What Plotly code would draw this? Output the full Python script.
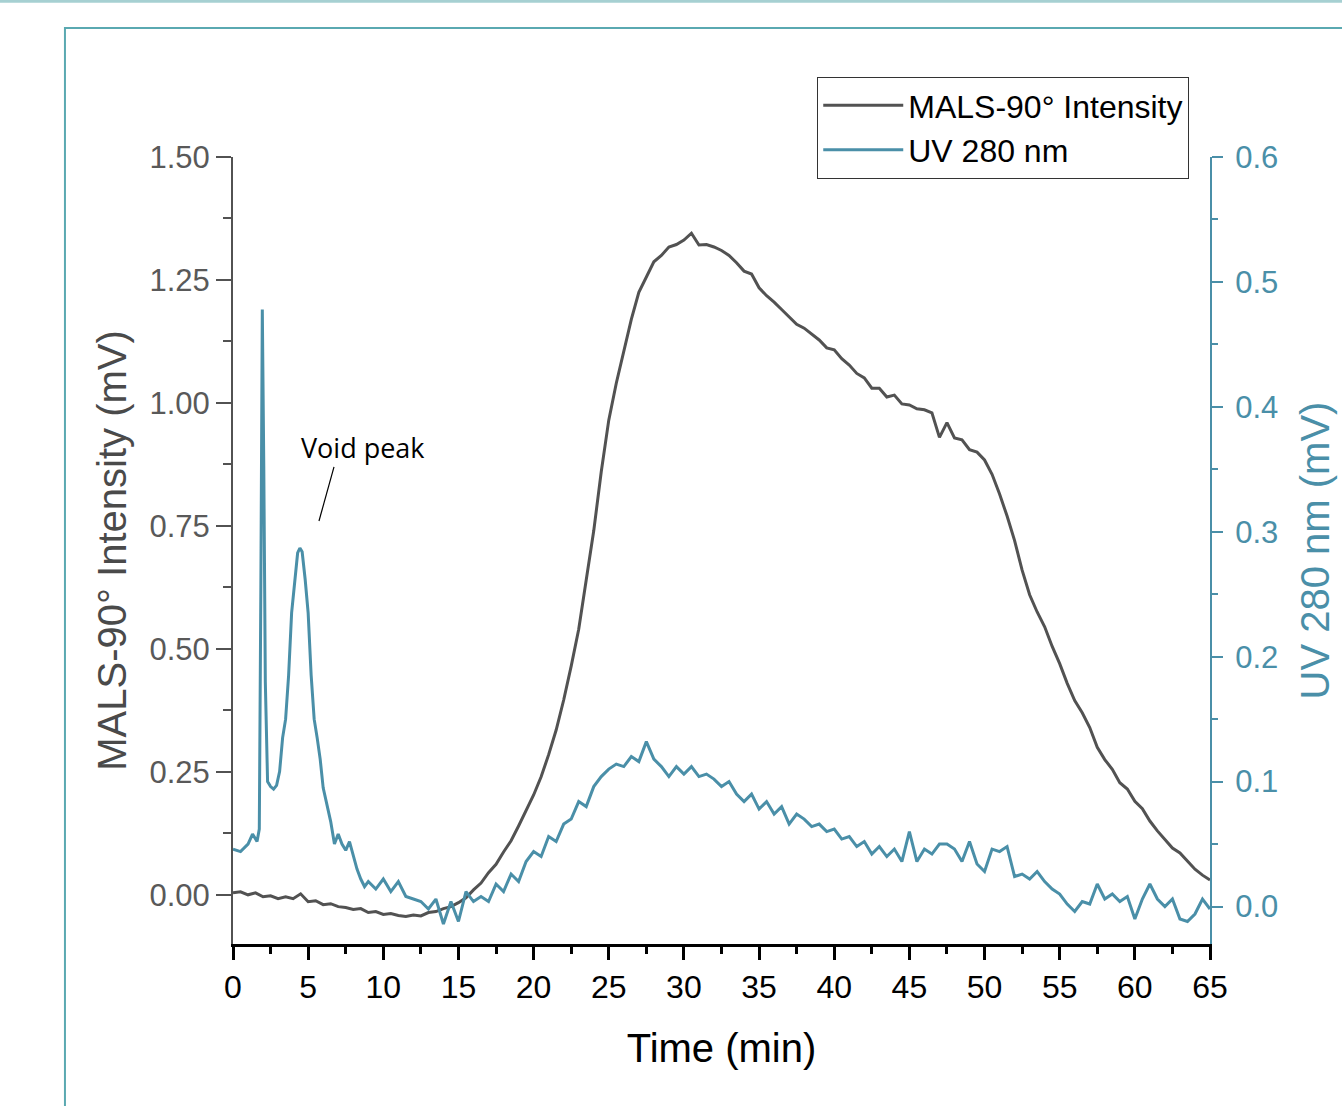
import plotly.graph_objects as go

# ---------------- data ----------------
mals_time = [i * 0.5 for i in range(131)]
mals_mv = [
    0.004, 0.006, 0.000, 0.004, -0.004, -0.002, -0.008, -0.004, -0.008, 0.002,
    -0.014, -0.012, -0.020, -0.018, -0.024, -0.026, -0.030, -0.028, -0.036, -0.034,
    -0.040, -0.038, -0.042, -0.044, -0.041, -0.043, -0.036, -0.034, -0.028, -0.024,
    -0.016, -0.006, 0.010, 0.024, 0.045, 0.062, 0.087, 0.110, 0.140, 0.170,
    0.203, 0.240, 0.285, 0.335, 0.396, 0.465, 0.540, 0.640, 0.740, 0.860,
    0.965, 1.040, 1.108, 1.170, 1.225, 1.255, 1.287, 1.300, 1.317, 1.322,
    1.331, 1.345, 1.321, 1.322, 1.317, 1.310, 1.300, 1.285, 1.268, 1.262,
    1.234, 1.218, 1.205, 1.190, 1.175, 1.160, 1.152, 1.140, 1.128, 1.112,
    1.108, 1.090, 1.077, 1.060, 1.051, 1.030, 1.030, 1.012, 1.016, 0.998,
    0.996, 0.988, 0.986, 0.980, 0.930, 0.960, 0.929, 0.925, 0.905, 0.900,
    0.884, 0.855, 0.815, 0.770, 0.720, 0.660, 0.610, 0.575, 0.545, 0.505,
    0.470, 0.430, 0.395, 0.370, 0.340, 0.300, 0.275, 0.255, 0.228, 0.215,
    0.190, 0.175, 0.150, 0.130, 0.112, 0.095, 0.085, 0.068, 0.052, 0.040,
    0.030,
]

uv_time = [
    0.0, 0.5, 1.0, 1.3, 1.6, 1.75, 1.85, 1.95, 2.05, 2.15, 2.3, 2.5, 2.7, 2.9,
    3.1, 3.3, 3.5, 3.7, 3.9, 4.1, 4.3, 4.45, 4.6, 4.8, 5.0, 5.2, 5.4, 5.6, 5.8,
    6.0, 6.25, 6.5, 6.75, 7.0, 7.25, 7.5, 7.75, 8.0, 8.25, 8.5, 8.75, 9.0,
] + [9.5 + i * 0.5 for i in range(112)]
uv_mv = [
    0.046, 0.044, 0.050, 0.058, 0.052, 0.062, 0.250, 0.478, 0.350, 0.180, 0.100,
    0.096, 0.094, 0.097, 0.108, 0.135, 0.150, 0.185, 0.235, 0.262, 0.283, 0.287,
    0.284, 0.262, 0.235, 0.185, 0.150, 0.135, 0.118, 0.095, 0.082, 0.068, 0.050,
    0.058, 0.050, 0.045, 0.052, 0.040, 0.030, 0.022, 0.016, 0.020,
    # 9.5 .. 65.0 every 0.5 min
    0.014, 0.022, 0.012, 0.020, 0.008, 0.006, 0.004, -0.002, 0.006, -0.014,
    0.004, -0.012, 0.012, 0.004, 0.008, 0.004, 0.018, 0.012, 0.026, 0.020,
    0.036, 0.044, 0.040, 0.056, 0.052, 0.066, 0.070, 0.084, 0.080, 0.096,
    0.104, 0.110, 0.114, 0.112, 0.120, 0.116, 0.132, 0.118, 0.112, 0.104,
    0.112, 0.106, 0.112, 0.104, 0.106, 0.102, 0.096, 0.100, 0.090, 0.084,
    0.090, 0.078, 0.084, 0.074, 0.080, 0.066, 0.074, 0.070, 0.064, 0.066,
    0.060, 0.062, 0.054, 0.056, 0.048, 0.052, 0.042, 0.048, 0.040, 0.046,
    0.036, 0.060, 0.036, 0.046, 0.042, 0.050, 0.050, 0.046, 0.036, 0.052,
    0.034, 0.028, 0.046, 0.044, 0.048, 0.024, 0.026, 0.022, 0.028, 0.020,
    0.014, 0.010, 0.002, -0.004, 0.004, 0.002, 0.018, 0.006, 0.010, 0.004,
    0.008, -0.010, 0.006, 0.018, 0.006, 0.000, 0.006, -0.010, -0.012, -0.006,
    0.006, -0.002,
]

x_ticks = list(range(0, 66, 5))
left_ticks = [0.0, 0.25, 0.5, 0.75, 1.0, 1.25, 1.5]
right_ticks = [0.0, 0.1, 0.2, 0.3, 0.4, 0.5, 0.6]

# annotation anchor (data units)
void_label_pos = (8.65, 0.91)
void_line = ((6.72, 0.870), (5.72, 0.760))

GRAY = "#525252"
TEAL = "#4a8fa8"
FRAME = "#5aa9b1"
ARIAL = "Liberation Sans, Arial, sans-serif"

fig = go.Figure()
fig.add_trace(go.Scatter(
    x=mals_time, y=mals_mv, mode="lines", name="MALS-90° Intensity",
    line=dict(color=GRAY, width=3), yaxis="y",
))
fig.add_trace(go.Scatter(
    x=uv_time, y=uv_mv, mode="lines", name="UV 280 nm",
    line=dict(color=TEAL, width=3), yaxis="y2",
))

fig.update_layout(
    width=1342, height=1106,
    margin=dict(l=233, r=132, t=157, b=162),
    paper_bgcolor="white", plot_bgcolor="white",
    font=dict(family=ARIAL),
    showlegend=True,
    legend=dict(
        x=0.598, y=1.1017, xanchor="left", yanchor="top",
        bordercolor="#333333", borderwidth=1, bgcolor="white",
        font=dict(size=32, color="black", family=ARIAL),
        itemwidth=80, tracegroupgap=0,
    ),
    xaxis=dict(
        range=[0, 65], tickvals=x_ticks, ticks="outside", ticklen=13, tickwidth=2.5,
        tickcolor="black", showline=True, linecolor="black", linewidth=3,
        showgrid=False, zeroline=False,
        tickfont=dict(size=32, color="black", family=ARIAL),
        title=dict(text="Time (min)", font=dict(size=40, color="black", family=ARIAL),
                   standoff=30),
        minor=dict(dtick=2.5, tick0=0, ticks="outside", ticklen=7, tickwidth=2.5,
                   tickcolor="black", showgrid=False),
    ),
    yaxis=dict(
        range=[-0.1, 1.5], tickvals=left_ticks, tickformat=".2f", ticks="outside",
        ticklen=15, tickwidth=2, tickcolor=GRAY, showline=True, linecolor=GRAY,
        linewidth=2, showgrid=False, zeroline=False,
        tickfont=dict(size=31, color="#595959", family=ARIAL),
        title=dict(text="MALS-90° Intensity (mV)",
                   font=dict(size=40, color="#4a4a4a", family=ARIAL), standoff=10),
        minor=dict(dtick=0.125, tick0=0, ticks="outside", ticklen=8, tickwidth=2,
                   tickcolor=GRAY, showgrid=False),
    ),
    yaxis2=dict(
        range=[-0.03, 0.6], tickvals=right_ticks, tickformat=".1f", ticks="outside",
        ticklen=11, tickwidth=2, tickcolor=TEAL, showline=True, linecolor=TEAL,
        linewidth=2, showgrid=False, zeroline=False, overlaying="y", side="right",
        tickfont=dict(size=31, color=TEAL, family=ARIAL), ticklabelstandoff=6,
        title=dict(text="UV 280 nm (mV)", font=dict(size=40, color=TEAL, family=ARIAL),
                   standoff=24),
        minor=dict(dtick=0.05, tick0=0, ticks="outside", ticklen=6, tickwidth=2,
                   tickcolor=TEAL, showgrid=False),
    ),
)

# "Void peak" label and leader line
fig.add_annotation(
    x=void_label_pos[0], y=void_label_pos[1], xref="x", yref="y",
    text="Void peak", showarrow=False,
    font=dict(size=27, color="black", family="Open Sans, sans-serif"),
)
fig.add_shape(
    type="line", xref="x", yref="y",
    x0=void_line[0][0], y0=void_line[0][1], x1=void_line[1][0], y1=void_line[1][1],
    line=dict(color="black", width=1.2),
)

# decorative slide frame around the chart (paper coordinates)
fig.add_shape(type="rect", xref="paper", yref="paper",
              x0=-0.172, y0=-0.25, x1=1.2, y1=1.164,
              line=dict(color=FRAME, width=2), fillcolor="rgba(0,0,0,0)", layer="below")
fig.add_shape(type="rect", xref="paper", yref="paper",
              x0=-0.3, y0=1.196, x1=1.2, y1=1.21,
              line=dict(width=0), fillcolor="#a6d0d2", layer="below")

fig.write_html("out.html")
